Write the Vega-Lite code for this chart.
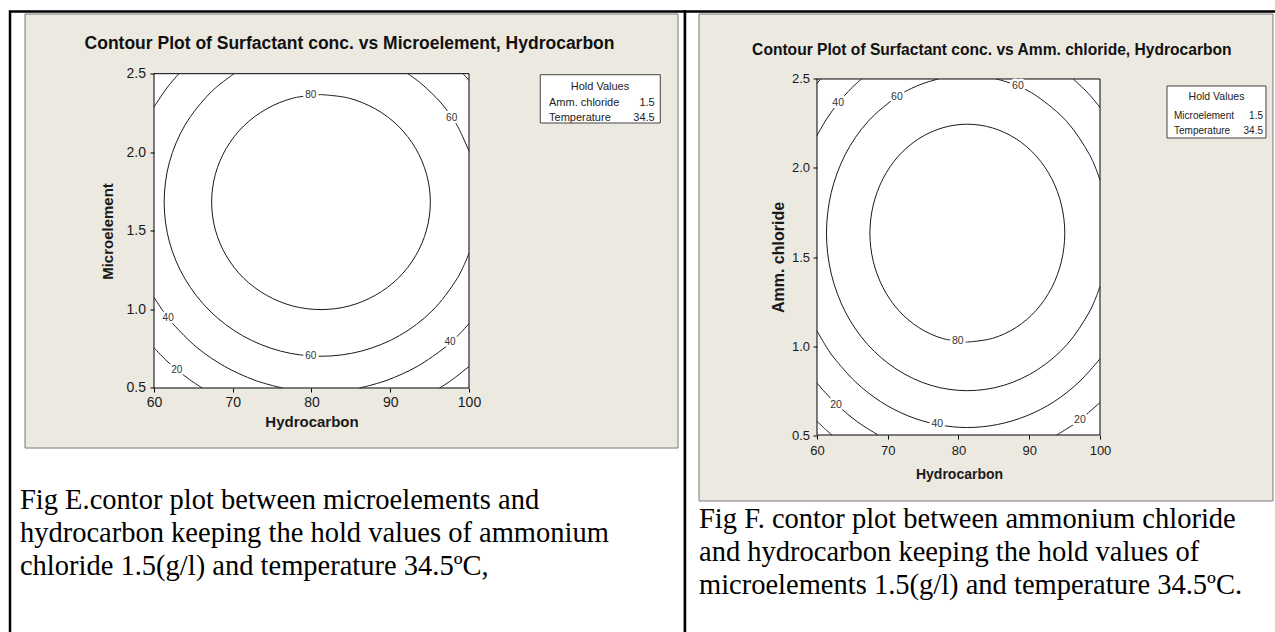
{
  "$schema": "https://vega.github.io/schema/vega-lite/v6.json",
  "background": "white",
  "padding": {"left": 8, "top": 9.5, "right": 0, "bottom": 0},
  "spacing": 0,
  "bounds": "flush",
  "datasets": {
    "contours": [
      {"c":"E","k":"80","i":0,"hc":81.2,"v":2.367},{"c":"E","k":"80","i":1,"hc":77.61,"v":2.344},{"c":"E","k":"80","i":2,"hc":74.26,"v":2.275},{"c":"E","k":"80","i":3,"hc":71.38,"v":2.167},{"c":"E","k":"80","i":4,"hc":69.18,"v":2.025},{"c":"E","k":"80","i":5,"hc":67.79,"v":1.86},{"c":"E","k":"80","i":6,"hc":67.32,"v":1.683},{"c":"E","k":"80","i":7,"hc":67.79,"v":1.506},{"c":"E","k":"80","i":8,"hc":69.18,"v":1.341},{"c":"E","k":"80","i":9,"hc":71.38,"v":1.199},{"c":"E","k":"80","i":10,"hc":74.26,"v":1.091},{"c":"E","k":"80","i":11,"hc":77.61,"v":1.022},{"c":"E","k":"80","i":12,"hc":81.2,"v":0.999},{"c":"E","k":"80","i":13,"hc":84.79,"v":1.022},{"c":"E","k":"80","i":14,"hc":88.14,"v":1.091},{"c":"E","k":"80","i":15,"hc":91.02,"v":1.199},{"c":"E","k":"80","i":16,"hc":93.22,"v":1.341},{"c":"E","k":"80","i":17,"hc":94.61,"v":1.506},{"c":"E","k":"80","i":18,"hc":95.09,"v":1.683},{"c":"E","k":"80","i":19,"hc":94.61,"v":1.86},{"c":"E","k":"80","i":20,"hc":93.22,"v":2.025},{"c":"E","k":"80","i":21,"hc":91.02,"v":2.167},{"c":"E","k":"80","i":22,"hc":88.14,"v":2.275},{"c":"E","k":"80","i":23,"hc":84.79,"v":2.344},{"c":"E","k":"80","i":24,"hc":81.2,"v":2.367},
      {"c":"E","k":"60a","i":0,"hc":100.0,"v":2.007},{"c":"E","k":"60a","i":1,"hc":98.45,"v":2.174},{"c":"E","k":"60a","i":2,"hc":96.45,"v":2.314},{"c":"E","k":"60a","i":3,"hc":94.0,"v":2.434},{"c":"E","k":"60a","i":4,"hc":92.22,"v":2.5},
      {"c":"E","k":"60b","i":0,"hc":70.18,"v":2.5},{"c":"E","k":"60b","i":1,"hc":67.12,"v":2.377},{"c":"E","k":"60b","i":2,"hc":63.95,"v":2.174},{"c":"E","k":"60b","i":3,"hc":61.96,"v":1.937},{"c":"E","k":"60b","i":4,"hc":61.29,"v":1.683},{"c":"E","k":"60b","i":5,"hc":61.96,"v":1.429},{"c":"E","k":"60b","i":6,"hc":63.95,"v":1.193},{"c":"E","k":"60b","i":7,"hc":67.12,"v":0.989},{"c":"E","k":"60b","i":8,"hc":71.24,"v":0.833},{"c":"E","k":"60b","i":9,"hc":76.05,"v":0.735},{"c":"E","k":"60b","i":10,"hc":81.2,"v":0.702},{"c":"E","k":"60b","i":11,"hc":86.35,"v":0.735},{"c":"E","k":"60b","i":12,"hc":91.16,"v":0.833},{"c":"E","k":"60b","i":13,"hc":95.28,"v":0.989},{"c":"E","k":"60b","i":14,"hc":98.45,"v":1.193},{"c":"E","k":"60b","i":15,"hc":100.0,"v":1.359},
      {"c":"E","k":"40a","i":0,"hc":100.0,"v":2.457},{"c":"E","k":"40a","i":1,"hc":99.61,"v":2.48},{"c":"E","k":"40a","i":2,"hc":99.24,"v":2.5},
      {"c":"E","k":"40b","i":0,"hc":63.16,"v":2.5},{"c":"E","k":"40b","i":1,"hc":61.63,"v":2.409},{"c":"E","k":"40b","i":2,"hc":60.0,"v":2.288},
      {"c":"E","k":"40c","i":0,"hc":60.0,"v":1.078},{"c":"E","k":"40c","i":1,"hc":61.13,"v":0.991},{"c":"E","k":"40c","i":2,"hc":62.43,"v":0.907},{"c":"E","k":"40c","i":3,"hc":65.45,"v":0.758},{"c":"E","k":"40c","i":4,"hc":68.95,"v":0.638},{"c":"E","k":"40c","i":5,"hc":72.82,"v":0.549},{"c":"E","k":"40c","i":6,"hc":76.31,"v":0.5},
      {"c":"E","k":"40d","i":0,"hc":86.09,"v":0.5},{"c":"E","k":"40d","i":1,"hc":89.58,"v":0.549},{"c":"E","k":"40d","i":2,"hc":93.45,"v":0.638},{"c":"E","k":"40d","i":3,"hc":96.95,"v":0.758},{"c":"E","k":"40d","i":4,"hc":98.53,"v":0.83},{"c":"E","k":"40d","i":5,"hc":100.0,"v":0.909},
      {"c":"E","k":"20a","i":0,"hc":60.0,"v":0.756},{"c":"E","k":"20a","i":1,"hc":61.5,"v":0.678},{"c":"E","k":"20a","i":2,"hc":62.97,"v":0.613},{"c":"E","k":"20a","i":3,"hc":64.53,"v":0.553},{"c":"E","k":"20a","i":4,"hc":66.13,"v":0.5},
      {"c":"E","k":"20b","i":0,"hc":96.27,"v":0.5},{"c":"E","k":"20b","i":1,"hc":97.87,"v":0.553},{"c":"E","k":"20b","i":2,"hc":100.0,"v":0.637},
      {"c":"F","k":"80","i":0,"hc":81.25,"v":1.022},{"c":"F","k":"80","i":1,"hc":84.81,"v":1.043},{"c":"F","k":"80","i":2,"hc":88.14,"v":1.104},{"c":"F","k":"80","i":3,"hc":90.99,"v":1.201},{"c":"F","k":"80","i":4,"hc":93.18,"v":1.328},{"c":"F","k":"80","i":5,"hc":94.55,"v":1.476},{"c":"F","k":"80","i":6,"hc":95.02,"v":1.634},{"c":"F","k":"80","i":7,"hc":94.55,"v":1.792},{"c":"F","k":"80","i":8,"hc":93.18,"v":1.94},{"c":"F","k":"80","i":9,"hc":90.99,"v":2.067},{"c":"F","k":"80","i":10,"hc":88.14,"v":2.164},{"c":"F","k":"80","i":11,"hc":84.81,"v":2.225},{"c":"F","k":"80","i":12,"hc":81.25,"v":2.246},{"c":"F","k":"80","i":13,"hc":77.69,"v":2.225},{"c":"F","k":"80","i":14,"hc":74.37,"v":2.164},{"c":"F","k":"80","i":15,"hc":71.51,"v":2.067},{"c":"F","k":"80","i":16,"hc":69.33,"v":1.94},{"c":"F","k":"80","i":17,"hc":67.95,"v":1.792},{"c":"F","k":"80","i":18,"hc":67.48,"v":1.634},{"c":"F","k":"80","i":19,"hc":67.95,"v":1.476},{"c":"F","k":"80","i":20,"hc":69.33,"v":1.328},{"c":"F","k":"80","i":21,"hc":71.51,"v":1.201},{"c":"F","k":"80","i":22,"hc":74.37,"v":1.104},{"c":"F","k":"80","i":23,"hc":77.69,"v":1.043},{"c":"F","k":"80","i":24,"hc":81.25,"v":1.022},
      {"c":"F","k":"60a","i":0,"hc":100.0,"v":1.932},{"c":"F","k":"60a","i":1,"hc":98.49,"v":2.077},{"c":"F","k":"60a","i":2,"hc":95.33,"v":2.26},{"c":"F","k":"60a","i":3,"hc":91.21,"v":2.4},{"c":"F","k":"60a","i":4,"hc":88.06,"v":2.466},{"c":"F","k":"60a","i":5,"hc":85.36,"v":2.5},
      {"c":"F","k":"60b","i":0,"hc":77.14,"v":2.5},{"c":"F","k":"60b","i":1,"hc":74.44,"v":2.466},{"c":"F","k":"60b","i":2,"hc":71.3,"v":2.4},{"c":"F","k":"60b","i":3,"hc":67.17,"v":2.26},{"c":"F","k":"60b","i":4,"hc":64.01,"v":2.077},{"c":"F","k":"60b","i":5,"hc":62.02,"v":1.863},{"c":"F","k":"60b","i":6,"hc":61.34,"v":1.634},{"c":"F","k":"60b","i":7,"hc":62.02,"v":1.405},{"c":"F","k":"60b","i":8,"hc":64.01,"v":1.191},{"c":"F","k":"60b","i":9,"hc":67.17,"v":1.008},{"c":"F","k":"60b","i":10,"hc":71.3,"v":0.868},{"c":"F","k":"60b","i":11,"hc":76.1,"v":0.779},{"c":"F","k":"60b","i":12,"hc":81.25,"v":0.749},{"c":"F","k":"60b","i":13,"hc":86.4,"v":0.779},{"c":"F","k":"60b","i":14,"hc":91.21,"v":0.868},{"c":"F","k":"60b","i":15,"hc":95.33,"v":1.008},{"c":"F","k":"60b","i":16,"hc":98.49,"v":1.191},{"c":"F","k":"60b","i":17,"hc":100.0,"v":1.336},
      {"c":"F","k":"40a","i":0,"hc":100.0,"v":2.34},{"c":"F","k":"40a","i":1,"hc":98.32,"v":2.42},{"c":"F","k":"40a","i":2,"hc":96.21,"v":2.5},
      {"c":"F","k":"40b","i":0,"hc":66.29,"v":2.5},{"c":"F","k":"40b","i":1,"hc":64.81,"v":2.446},{"c":"F","k":"40b","i":2,"hc":62.99,"v":2.365},{"c":"F","k":"40b","i":3,"hc":61.37,"v":2.276},{"c":"F","k":"40b","i":4,"hc":60.0,"v":2.182},
      {"c":"F","k":"40c","i":0,"hc":60.0,"v":1.086},{"c":"F","k":"40c","i":1,"hc":61.12,"v":1.008},{"c":"F","k":"40c","i":2,"hc":62.43,"v":0.932},{"c":"F","k":"40c","i":3,"hc":65.46,"v":0.798},{"c":"F","k":"40c","i":4,"hc":68.97,"v":0.688},{"c":"F","k":"40c","i":5,"hc":72.85,"v":0.608},{"c":"F","k":"40c","i":6,"hc":76.98,"v":0.559},{"c":"F","k":"40c","i":7,"hc":81.25,"v":0.542},{"c":"F","k":"40c","i":8,"hc":85.52,"v":0.559},{"c":"F","k":"40c","i":9,"hc":89.65,"v":0.608},{"c":"F","k":"40c","i":10,"hc":93.54,"v":0.688},{"c":"F","k":"40c","i":11,"hc":97.04,"v":0.798},{"c":"F","k":"40c","i":12,"hc":100.0,"v":0.928},
      {"c":"F","k":"20a","i":0,"hc":60.5,"v":2.5},{"c":"F","k":"20a","i":1,"hc":60.0,"v":2.475},
      {"c":"F","k":"20b","i":0,"hc":60.0,"v":0.793},{"c":"F","k":"20b","i":1,"hc":61.13,"v":0.74},{"c":"F","k":"20b","i":2,"hc":62.96,"v":0.665},{"c":"F","k":"20b","i":3,"hc":65.75,"v":0.573},{"c":"F","k":"20b","i":4,"hc":68.64,"v":0.5},
      {"c":"F","k":"20c","i":0,"hc":93.86,"v":0.5},{"c":"F","k":"20c","i":1,"hc":95.48,"v":0.539},{"c":"F","k":"20c","i":2,"hc":97.16,"v":0.585},{"c":"F","k":"20c","i":3,"hc":100.0,"v":0.682},
      {"c":"F","k":"0","i":0,"hc":60.0,"v":0.577},{"c":"F","k":"0","i":1,"hc":61.05,"v":0.537},{"c":"F","k":"0","i":2,"hc":62.12,"v":0.5}
    ],
    "labels": [
      {"c":"E","t":"80","hc":79.9,"v":2.366},{"c":"E","t":"60","hc":97.8,"v":2.22},{"c":"E","t":"60","hc":79.9,"v":0.704},{"c":"E","t":"40","hc":61.8,"v":0.945},{"c":"E","t":"40","hc":97.6,"v":0.79},{"c":"E","t":"20","hc":62.9,"v":0.612},
      {"c":"F","t":"40","hc":62.99,"v":2.365},{"c":"F","t":"60","hc":71.3,"v":2.4},{"c":"F","t":"60","hc":88.4,"v":2.459},{"c":"F","t":"80","hc":79.9,"v":1.03},{"c":"F","t":"20","hc":62.7,"v":0.67},{"c":"F","t":"40","hc":77.0,"v":0.559},{"c":"F","t":"20","hc":97.16,"v":0.585}
    ]
  },
  "hconcat": [
    {
      "width": 675,
      "height": 625,
      "layer": [
        {"data": {"values": [{}]}, "mark": {"type": "rect", "fill": "#ECE9E1", "stroke": "#777777", "strokeWidth": 1},
         "encoding": {"x": {"datum": 43.62, "type": "quantitative"}, "x2": {"datum": 126.54}, "y": {"datum": 2.88, "type": "quantitative"}, "y2": {"datum": 0.118}}},
        {"data": {"values": [{}]}, "mark": {"type": "rect", "fill": "white", "stroke": "#444444", "strokeWidth": 1},
         "encoding": {"x": {"datum": 109.05, "type": "quantitative"}, "x2": {"datum": 124.29}, "y": {"datum": 2.4936, "type": "quantitative"}, "y2": {"datum": 2.1863}}},
        {"data": {"values": [{}]}, "mark": {"type": "rect", "fill": "white", "stroke": "black", "strokeWidth": 1},
         "encoding": {"x": {"datum": 60, "type": "quantitative"}, "x2": {"datum": 100}, "y": {"datum": 0.5, "type": "quantitative"}, "y2": {"datum": 2.5}}},
        {"data": {"name": "contours"}, "transform": [{"filter": "datum.c === 'E'"}],
         "mark": {"type": "line", "interpolate": "cardinal", "stroke": "#1a1a1a", "strokeWidth": 1},
         "encoding": {
           "x": {"field": "hc", "type": "quantitative", "scale": {"domain": [41.7143, 127.4286], "nice": false, "zero": false},
                 "axis": {"zindex": 2, "values": [60, 70, 80, 90, 100], "format": "d", "offset": -248.5, "labelFont": "Liberation Sans", "labelFontSize": 14, "labelPadding": 3.5,
                          "title": "Hydrocarbon", "titleFont": "Liberation Sans", "titleFontSize": 15, "titleFontWeight": "bold", "titleX": 301.5, "titleY": 38, "titleBaseline": "alphabetic", "titleAlign": "center", "titleAngle": 0}},
           "y": {"field": "v", "type": "quantitative", "scale": {"domain": [-1.0813, 2.8958], "nice": false, "zero": false},
                 "axis": {"zindex": 2, "values": [0.5, 1, 1.5, 2, 2.5], "format": ".1f", "offset": -144, "labelFont": "Liberation Sans", "labelFontSize": 14, "labelPadding": 4.5,
                          "title": "Microelement", "titleFont": "Liberation Sans", "titleFontSize": 15, "titleFontWeight": "bold", "titleX": -46.5, "titleY": 219.5, "titleAngle": 270, "titleBaseline": "middle", "titleAlign": "center"}},
           "detail": {"field": "k"},
           "order": {"field": "i", "type": "quantitative"}
         }},
        {"data": {"name": "labels"}, "transform": [{"filter": "datum.c === 'E'"}],
         "mark": {"type": "text", "font": "Liberation Sans", "fontSize": 10, "fill": "white", "stroke": "white", "strokeWidth": 5, "strokeJoin": "round", "align": "center", "baseline": "middle"},
         "encoding": {"x": {"field": "hc", "type": "quantitative"}, "y": {"field": "v", "type": "quantitative"}, "text": {"field": "t"}}},
        {"data": {"name": "labels"}, "transform": [{"filter": "datum.c === 'E'"}],
         "mark": {"type": "text", "font": "Liberation Sans", "fontSize": 10, "fill": "#333333", "align": "center", "baseline": "middle"},
         "encoding": {"x": {"field": "hc", "type": "quantitative"}, "y": {"field": "v", "type": "quantitative"}, "text": {"field": "t"}}},
        {"data": {"values": [{}]}, "mark": {"type": "text", "text": "Contour Plot of Surfactant conc. vs Microelement, Hydrocarbon", "font": "Liberation Sans", "fontSize": 17.5, "fontWeight": "bold", "fill": "#111111", "align": "center", "baseline": "alphabetic"},
         "encoding": {"x": {"datum": 84.83, "type": "quantitative"}, "y": {"datum": 2.6553, "type": "quantitative"}}},
        {"data": {"values": [{}]}, "mark": {"type": "text", "text": "Hold Values", "font": "Liberation Sans", "fontSize": 11, "fill": "#222222", "align": "center", "baseline": "alphabetic"},
         "encoding": {"x": {"datum": 116.63, "type": "quantitative"}, "y": {"datum": 2.3944, "type": "quantitative"}}},
        {"data": {"values": [{}]}, "mark": {"type": "text", "text": ["Amm. chloride", "Temperature"], "lineHeight": 15, "font": "Liberation Sans", "fontSize": 11, "fill": "#222222", "align": "left", "baseline": "alphabetic"},
         "encoding": {"x": {"datum": 110.16, "type": "quantitative"}, "y": {"datum": 2.2945, "type": "quantitative"}}},
        {"data": {"values": [{}]}, "mark": {"type": "text", "text": ["1.5", "34.5"], "lineHeight": 15, "font": "Liberation Sans", "fontSize": 11, "fill": "#222222", "align": "right", "baseline": "alphabetic"},
         "encoding": {"x": {"datum": 123.58, "type": "quantitative"}, "y": {"datum": 2.2945, "type": "quantitative"}}},
        {"data": {"values": [{}]}, "mark": {"type": "text", "text": ["Fig E.contor plot between microelements and", "hydrocarbon keeping the hold values of ammonium", "chloride 1.5(g/l) and temperature 34.5ºC,"], "lineHeight": 33, "font": "Liberation Serif", "fontSize": 28.5, "fill": "black", "align": "left", "baseline": "alphabetic"},
         "encoding": {"x": {"datum": 42.98, "type": "quantitative"}, "y": {"datum": -0.2668, "type": "quantitative"}}}
      ]
    },
    {
      "width": 594,
      "height": 625,
      "layer": [
        {"data": {"values": [{}]}, "mark": {"type": "rect", "fill": "#ECE9E1", "stroke": "#777777", "strokeWidth": 1},
         "encoding": {"x": {"datum": 43.32, "type": "quantitative"}, "x2": {"datum": 124.45}, "y": {"datum": 2.8652, "type": "quantitative"}, "y2": {"datum": 0.1292}}},
        {"data": {"values": [{}]}, "mark": {"type": "rect", "fill": "white", "stroke": "#444444", "strokeWidth": 1},
         "encoding": {"x": {"datum": 109.47, "type": "quantitative"}, "x2": {"datum": 123.46}, "y": {"datum": 2.4607, "type": "quantitative"}, "y2": {"datum": 2.1685}}},
        {"data": {"values": [{}]}, "mark": {"type": "rect", "fill": "white", "stroke": "black", "strokeWidth": 1},
         "encoding": {"x": {"datum": 60, "type": "quantitative"}, "x2": {"datum": 100}, "y": {"datum": 0.5, "type": "quantitative"}, "y2": {"datum": 2.5}}},
        {"data": {"name": "contours"}, "transform": [{"filter": "datum.c === 'F'"}],
         "mark": {"type": "line", "interpolate": "cardinal", "stroke": "#1a1a1a", "strokeWidth": 1},
         "encoding": {
           "x": {"field": "hc", "type": "quantitative", "scale": {"domain": [41.3428, 125.3004], "nice": false, "zero": false},
                 "axis": {"zindex": 2, "values": [60, 70, 80, 90, 100], "format": "d", "offset": -201.5, "labelFont": "Liberation Sans", "labelFontSize": 13, "labelPadding": 5.5,
                          "title": "Hydrocarbon", "titleFont": "Liberation Sans", "titleFontSize": 14, "titleFontWeight": "bold", "titleX": 274, "titleY": 43.5, "titleBaseline": "alphabetic", "titleAlign": "center", "titleAngle": 0}},
           "y": {"field": "v", "type": "quantitative", "scale": {"domain": [-0.632, 2.8792], "nice": false, "zero": false},
                 "axis": {"zindex": 2, "values": [0.5, 1, 1.5, 2, 2.5], "format": ".1f", "offset": -132, "labelFont": "Liberation Sans", "labelFontSize": 13, "labelPadding": 3.5,
                          "title": "Amm. chloride", "titleFont": "Liberation Sans", "titleFontSize": 16, "titleFontWeight": "bold", "titleX": -39, "titleY": 245.5, "titleAngle": 270, "titleBaseline": "middle", "titleAlign": "center"}},
           "detail": {"field": "k"},
           "order": {"field": "i", "type": "quantitative"}
         }},
        {"data": {"name": "labels"}, "transform": [{"filter": "datum.c === 'F'"}],
         "mark": {"type": "text", "font": "Liberation Sans", "fontSize": 10.5, "fill": "white", "stroke": "white", "strokeWidth": 5, "strokeJoin": "round", "align": "center", "baseline": "middle"},
         "encoding": {"x": {"field": "hc", "type": "quantitative"}, "y": {"field": "v", "type": "quantitative"}, "text": {"field": "t"}}},
        {"data": {"name": "labels"}, "transform": [{"filter": "datum.c === 'F'"}],
         "mark": {"type": "text", "font": "Liberation Sans", "fontSize": 10.5, "fill": "#333333", "align": "center", "baseline": "middle"},
         "encoding": {"x": {"field": "hc", "type": "quantitative"}, "y": {"field": "v", "type": "quantitative"}, "text": {"field": "t"}}},
        {"data": {"values": [{}]}, "mark": {"type": "text", "text": "Contour Plot of Surfactant conc. vs Amm. chloride, Hydrocarbon", "font": "Liberation Sans", "fontSize": 15.6, "fontWeight": "bold", "fill": "#111111", "align": "center", "baseline": "alphabetic"},
         "encoding": {"x": {"datum": 84.71, "type": "quantitative"}, "y": {"datum": 2.6348, "type": "quantitative"}}},
        {"data": {"values": [{}]}, "mark": {"type": "text", "text": "Hold Values", "font": "Liberation Sans", "fontSize": 10.5, "fill": "#222222", "align": "center", "baseline": "alphabetic"},
         "encoding": {"x": {"datum": 116.47, "type": "quantitative"}, "y": {"datum": 2.382, "type": "quantitative"}}},
        {"data": {"values": [{}]}, "mark": {"type": "text", "text": ["Microelement", "Temperature"], "lineHeight": 15, "font": "Liberation Sans", "fontSize": 10, "fill": "#222222", "align": "left", "baseline": "alphabetic"},
         "encoding": {"x": {"datum": 110.46, "type": "quantitative"}, "y": {"datum": 2.2753, "type": "quantitative"}}},
        {"data": {"values": [{}]}, "mark": {"type": "text", "text": ["1.5", "34.5"], "lineHeight": 15, "font": "Liberation Sans", "fontSize": 10, "fill": "#222222", "align": "right", "baseline": "alphabetic"},
         "encoding": {"x": {"datum": 123.04, "type": "quantitative"}, "y": {"datum": 2.2753, "type": "quantitative"}}},
        {"data": {"values": [{}]}, "mark": {"type": "text", "text": ["Fig F. contor plot between ammonium chloride", "and hydrocarbon keeping the hold values of", "microelements 1.5(g/l) and temperature 34.5ºC."], "lineHeight": 33, "font": "Liberation Serif", "fontSize": 28.5, "fill": "black", "align": "left", "baseline": "alphabetic"},
         "encoding": {"x": {"datum": 43.32, "type": "quantitative"}, "y": {"datum": -0.0197, "type": "quantitative"}}}
      ]
    }
  ],
  "config": {
    "font": "Liberation Sans",
    "view": {"stroke": "black", "strokeWidth": 2.5, "fill": "white"},
    "axis": {"zindex": 2, "domain": false, "grid": false, "ticks": true, "tickColor": "black", "tickSize": 4, "tickWidth": 1, "labelColor": "#1a1a1a", "titleColor": "#1a1a1a", "labelFlush": false, "labelOverlap": false, "labelBound": false}
  }
}
